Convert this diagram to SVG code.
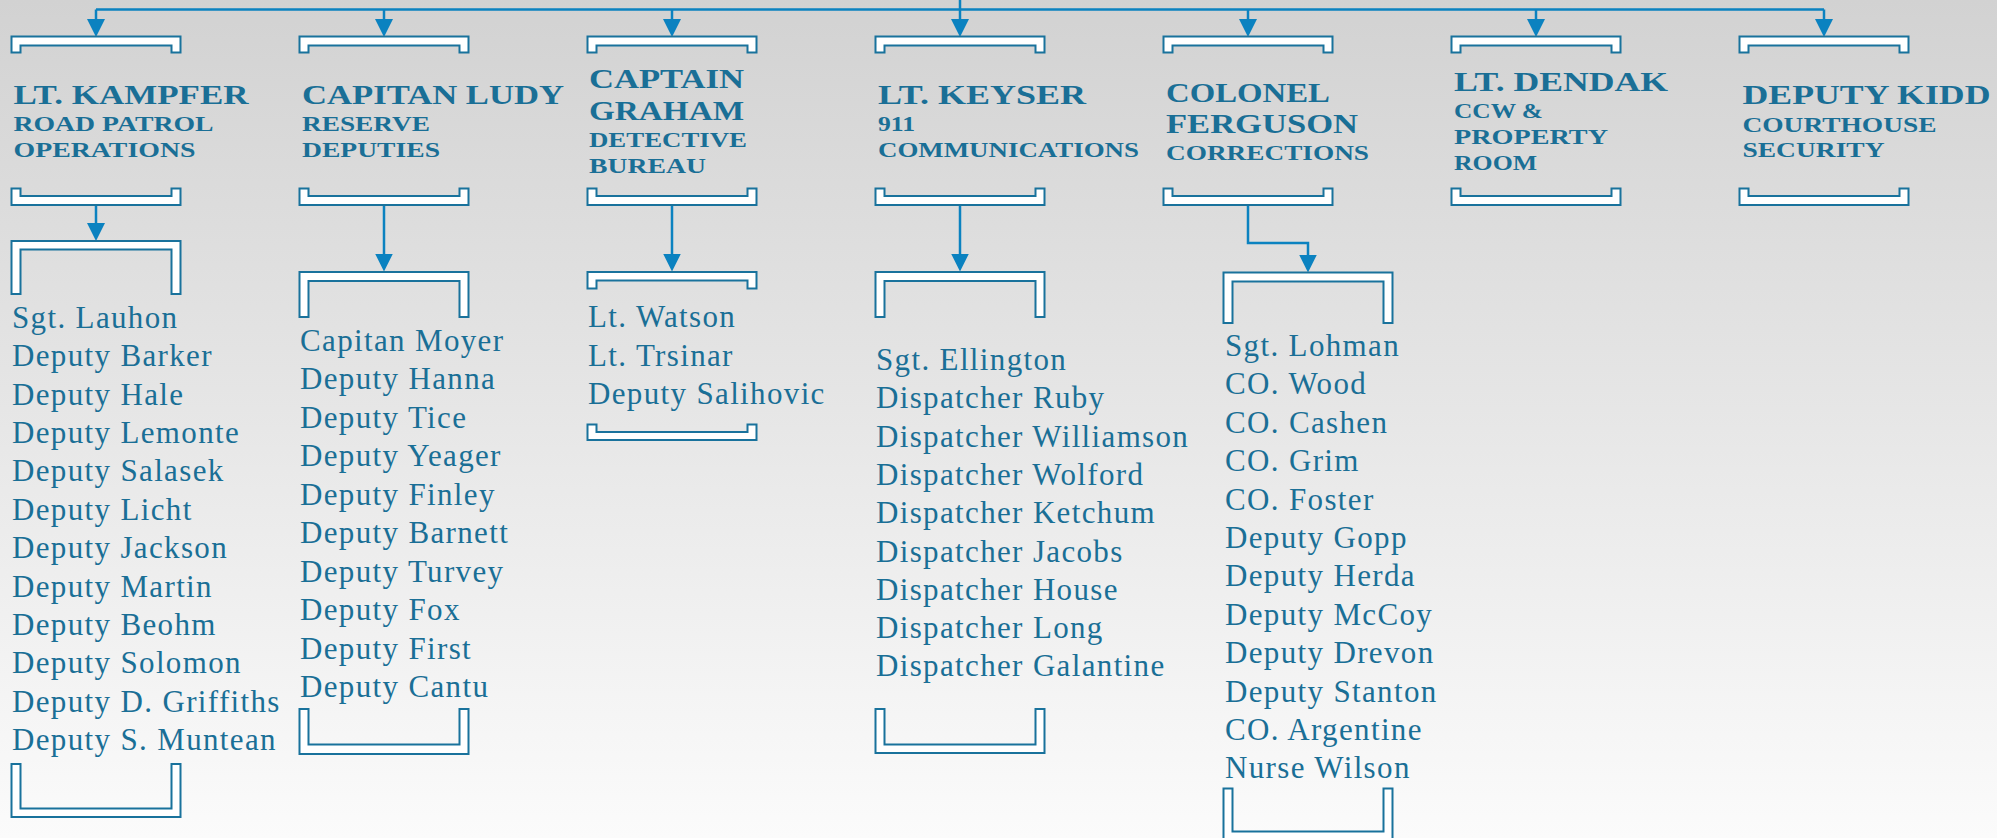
<svg xmlns="http://www.w3.org/2000/svg" width="1997" height="838" viewBox="0 0 1997 838">
<defs>
<linearGradient id="bg" x1="0" y1="0" x2="0" y2="1">
<stop offset="0" stop-color="#d2d2d2"/>
<stop offset="1" stop-color="#fbfbfb"/>
</linearGradient>
<marker id="ah" markerUnits="userSpaceOnUse" viewBox="0 0 18 18" markerWidth="18" markerHeight="18" refX="14" refY="9" orient="auto">
<path d="M0,0 L18,9 L0,18 Z" fill="#0b82c0"/>
</marker>
<style>
.br{fill:#fff;stroke:#19729c;stroke-width:2}
.cn{fill:none;stroke:#0b82c0;stroke-width:2.5}
.ar{marker-end:url(#ah)}
text{font-family:"Liberation Serif",serif;fill:#1a6f96}
.h{font-size:28px;font-weight:bold}
.s{font-size:21px;font-weight:bold}
.n{font-size:31px;letter-spacing:1.35px}
</style>
</defs>
<rect x="0" y="0" width="1997" height="838" fill="url(#bg)"/>

<g id="connectors">
<path class="cn" d="M96,9.5 H1824 M960,0 V9.5"/>
<path class="cn ar" d="M96,9.5 V33"/>
<path class="cn ar" d="M384,9.5 V33"/>
<path class="cn ar" d="M672,9.5 V33"/>
<path class="cn ar" d="M960,9.5 V33"/>
<path class="cn ar" d="M1248,9.5 V33"/>
<path class="cn ar" d="M1536,9.5 V33"/>
<path class="cn ar" d="M1824,9.5 V33"/>
<path class="cn ar" d="M96,205 V237"/>
<path class="cn ar" d="M384,205 V267.5"/>
<path class="cn ar" d="M672,205 V267.5"/>
<path class="cn ar" d="M960,205 V267.5"/>
<path class="cn ar" d="M1248,205 V243 H1308 V268.5"/>
</g>

<g id="node-kampfer">
<path class="br" d="M11.5,36.5 H180.5 V52.5 H171.5 V45.5 H20.5 V52.5 H11.5 Z"/>
<text class="h" x="13.5" y="104" textLength="235" lengthAdjust="spacingAndGlyphs">LT. KAMPFER</text>
<text class="s" x="13.5" y="131" textLength="200" lengthAdjust="spacingAndGlyphs">ROAD PATROL</text>
<text class="s" x="13.5" y="157" textLength="182" lengthAdjust="spacingAndGlyphs">OPERATIONS</text>
<path class="br" d="M11.5,188.5 H20.5 V196 H171.5 V188.5 H180.5 V205 H11.5 Z"/>
</g>
<g id="node-ludy">
<path class="br" d="M299.5,36.5 H468.5 V52.5 H459.5 V45.5 H308.5 V52.5 H299.5 Z"/>
<text class="h" x="302" y="104" textLength="262" lengthAdjust="spacingAndGlyphs">CAPITAN LUDY</text>
<text class="s" x="302" y="131" textLength="128" lengthAdjust="spacingAndGlyphs">RESERVE</text>
<text class="s" x="302" y="157" textLength="138" lengthAdjust="spacingAndGlyphs">DEPUTIES</text>
<path class="br" d="M299.5,188.5 H308.5 V196 H459.5 V188.5 H468.5 V205 H299.5 Z"/>
</g>
<g id="node-graham">
<path class="br" d="M587.5,36.5 H756.5 V52.5 H747.5 V45.5 H596.5 V52.5 H587.5 Z"/>
<text class="h" x="589" y="88" textLength="155" lengthAdjust="spacingAndGlyphs">CAPTAIN</text>
<text class="h" x="589" y="120" textLength="155" lengthAdjust="spacingAndGlyphs">GRAHAM</text>
<text class="s" x="589" y="146.5" textLength="158" lengthAdjust="spacingAndGlyphs">DETECTIVE</text>
<text class="s" x="589" y="173" textLength="117" lengthAdjust="spacingAndGlyphs">BUREAU</text>
<path class="br" d="M587.5,188.5 H596.5 V196 H747.5 V188.5 H756.5 V205 H587.5 Z"/>
</g>
<g id="node-keyser">
<path class="br" d="M875.5,36.5 H1044.5 V52.5 H1035.5 V45.5 H884.5 V52.5 H875.5 Z"/>
<text class="h" x="878" y="104" textLength="208" lengthAdjust="spacingAndGlyphs">LT. KEYSER</text>
<text class="s" x="878" y="131" textLength="37" lengthAdjust="spacingAndGlyphs">911</text>
<text class="s" x="878" y="157" textLength="261" lengthAdjust="spacingAndGlyphs">COMMUNICATIONS</text>
<path class="br" d="M875.5,188.5 H884.5 V196 H1035.5 V188.5 H1044.5 V205 H875.5 Z"/>
</g>
<g id="node-ferguson">
<path class="br" d="M1163.5,36.5 H1332.5 V52.5 H1323.5 V45.5 H1172.5 V52.5 H1163.5 Z"/>
<text class="h" x="1166" y="101.5" textLength="164" lengthAdjust="spacingAndGlyphs">COLONEL</text>
<text class="h" x="1166" y="133" textLength="192" lengthAdjust="spacingAndGlyphs">FERGUSON</text>
<text class="s" x="1166" y="160" textLength="203" lengthAdjust="spacingAndGlyphs">CORRECTIONS</text>
<path class="br" d="M1163.5,188.5 H1172.5 V196 H1323.5 V188.5 H1332.5 V205 H1163.5 Z"/>
</g>
<g id="node-dendak">
<path class="br" d="M1451.5,36.5 H1620.5 V52.5 H1611.5 V45.5 H1460.5 V52.5 H1451.5 Z"/>
<text class="h" x="1454" y="90.5" textLength="214" lengthAdjust="spacingAndGlyphs">LT. DENDAK</text>
<text class="s" x="1454" y="118" textLength="89" lengthAdjust="spacingAndGlyphs">CCW &amp;</text>
<text class="s" x="1454" y="144" textLength="154" lengthAdjust="spacingAndGlyphs">PROPERTY</text>
<text class="s" x="1454" y="170" textLength="83" lengthAdjust="spacingAndGlyphs">ROOM</text>
<path class="br" d="M1451.5,188.5 H1460.5 V196 H1611.5 V188.5 H1620.5 V205 H1451.5 Z"/>
</g>
<g id="node-kidd">
<path class="br" d="M1739.5,36.5 H1908.5 V52.5 H1899.5 V45.5 H1748.5 V52.5 H1739.5 Z"/>
<text class="h" x="1742.5" y="104" textLength="248" lengthAdjust="spacingAndGlyphs">DEPUTY KIDD</text>
<text class="s" x="1742.5" y="131.5" textLength="194" lengthAdjust="spacingAndGlyphs">COURTHOUSE</text>
<text class="s" x="1742.5" y="157" textLength="142" lengthAdjust="spacingAndGlyphs">SECURITY</text>
<path class="br" d="M1739.5,188.5 H1748.5 V196 H1899.5 V188.5 H1908.5 V205 H1739.5 Z"/>
</g>

<g id="team-kampfer">
<path class="br" d="M11.5,241 H180.5 V294 H171.5 V249.5 H20.5 V294 H11.5 Z"/>
<text class="n"><tspan x="12" y="327.7">Sgt. Lauhon</tspan><tspan x="12" y="366.1">Deputy Barker</tspan><tspan x="12" y="404.5">Deputy Hale</tspan><tspan x="12" y="442.9">Deputy Lemonte</tspan><tspan x="12" y="481.3">Deputy Salasek</tspan><tspan x="12" y="519.7">Deputy Licht</tspan><tspan x="12" y="558.1">Deputy Jackson</tspan><tspan x="12" y="596.5">Deputy Martin</tspan><tspan x="12" y="634.9">Deputy Beohm</tspan><tspan x="12" y="673.3">Deputy Solomon</tspan><tspan x="12" y="711.7">Deputy D. Griffiths</tspan><tspan x="12" y="750.1">Deputy S. Muntean</tspan></text>
<path class="br" d="M11.5,764 H20.5 V808.5 H171.5 V764 H180.5 V817 H11.5 Z"/>
</g>
<g id="team-ludy">
<path class="br" d="M299.5,272 H468.5 V317 H459.5 V281 H308.5 V317 H299.5 Z"/>
<text class="n"><tspan x="300" y="350.7">Capitan Moyer</tspan><tspan x="300" y="389.2">Deputy Hanna</tspan><tspan x="300" y="427.7">Deputy Tice</tspan><tspan x="300" y="466.2">Deputy Yeager</tspan><tspan x="300" y="504.7">Deputy Finley</tspan><tspan x="300" y="543.2">Deputy Barnett</tspan><tspan x="300" y="581.7">Deputy Turvey</tspan><tspan x="300" y="620.2">Deputy Fox</tspan><tspan x="300" y="658.7">Deputy First</tspan><tspan x="300" y="697.2">Deputy Cantu</tspan></text>
<path class="br" d="M299.5,709 H308.5 V744.5 H459.5 V709 H468.5 V754 H299.5 Z"/>
</g>
<g id="team-graham">
<path class="br" d="M587.5,272 H756.5 V288.5 H747.5 V280.5 H596.5 V288.5 H587.5 Z"/>
<text class="n"><tspan x="588" y="327.3">Lt. Watson</tspan><tspan x="588" y="365.7">Lt. Trsinar</tspan><tspan x="588" y="404">Deputy Salihovic</tspan></text>
<path class="br" d="M587.5,424.5 H596.5 V432 H747.5 V424.5 H756.5 V440 H587.5 Z"/>
</g>
<g id="team-keyser">
<path class="br" d="M875.5,272 H1044.5 V317 H1035.5 V281 H884.5 V317 H875.5 Z"/>
<text class="n"><tspan x="876" y="370">Sgt. Ellington</tspan><tspan x="876" y="408.3">Dispatcher Ruby</tspan><tspan x="876" y="446.6">Dispatcher Williamson</tspan><tspan x="876" y="484.9">Dispatcher Wolford</tspan><tspan x="876" y="523.2">Dispatcher Ketchum</tspan><tspan x="876" y="561.5">Dispatcher Jacobs</tspan><tspan x="876" y="599.8">Dispatcher House</tspan><tspan x="876" y="638.1">Dispatcher Long</tspan><tspan x="876" y="676.4">Dispatcher Galantine</tspan></text>
<path class="br" d="M875.5,709 H884.5 V744.5 H1035.5 V709 H1044.5 V753 H875.5 Z"/>
</g>
<g id="team-ferguson">
<path class="br" d="M1223.5,272.5 H1392.5 V323 H1383.5 V281.5 H1232.5 V323 H1223.5 Z"/>
<text class="n"><tspan x="1225" y="355.9">Sgt. Lohman</tspan><tspan x="1225" y="394.3">CO. Wood</tspan><tspan x="1225" y="432.7">CO. Cashen</tspan><tspan x="1225" y="471.1">CO. Grim</tspan><tspan x="1225" y="509.5">CO. Foster</tspan><tspan x="1225" y="547.9">Deputy Gopp</tspan><tspan x="1225" y="586.3">Deputy Herda</tspan><tspan x="1225" y="624.7">Deputy McCoy</tspan><tspan x="1225" y="663.1">Deputy Drevon</tspan><tspan x="1225" y="701.5">Deputy Stanton</tspan><tspan x="1225" y="739.9">CO. Argentine</tspan><tspan x="1225" y="778.3">Nurse Wilson</tspan></text>
<path class="br" d="M1223.5,788.5 H1232.5 V831.5 H1383.5 V788.5 H1392.5 V840 H1223.5 Z"/>
</g>
</svg>
